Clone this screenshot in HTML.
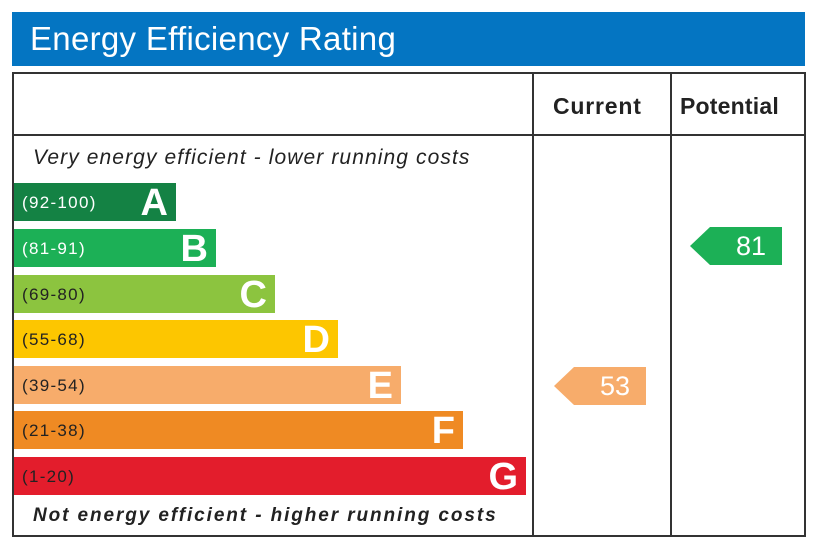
<!DOCTYPE html><html><head><style>
body{margin:0;width:820px;height:547px;background:#fff;position:relative;font-family:"Liberation Sans",sans-serif;overflow:hidden}
.a{position:absolute;white-space:nowrap}
.bar{position:absolute;left:14px;height:38px;color:#fff}
.bar .r{position:absolute;left:8px;top:10px;font-size:17px;letter-spacing:1.3px;color:#fff}
.bar .l{position:absolute;right:8px;top:-1px;font-size:38px;font-weight:bold}
.hd{font-weight:bold;font-size:23px;color:#222;letter-spacing:0.8px}
</style></head><body>
<div class="a" style="left:12px;top:12px;width:793px;height:54px;background:#0475c2"></div>
<div class="a" style="left:30px;top:20px;color:#fff;font-size:33px;letter-spacing:0.3px">Energy Efficiency Rating</div>
<div class="a" style="left:12px;top:72px;width:790px;height:461px;border:2px solid #333"></div>
<div class="a" style="left:14px;top:134px;width:790px;height:2px;background:#333"></div>
<div class="a" style="left:532px;top:74px;width:2px;height:461px;background:#333"></div>
<div class="a" style="left:670px;top:74px;width:2px;height:461px;background:#333"></div>
<div class="a hd" style="left:553px;top:93px">Current</div>
<div class="a hd" style="left:680px;top:93px;letter-spacing:0.2px">Potential</div>
<div class="a" style="left:33px;top:146px;font-style:italic;font-size:21px;letter-spacing:1.1px;color:#222">Very energy efficient - lower running costs</div>
<div class="a" style="left:33px;top:505px;font-style:italic;font-weight:bold;font-size:19px;letter-spacing:1.9px;color:#222">Not energy efficient - higher running costs</div>
<div class="bar" style="top:183px;width:162px;background:#148244"><span class="r">(92-100)</span><span class="l">A</span></div>
<div class="bar" style="top:229px;width:202px;background:#1cb056"><span class="r">(81-91)</span><span class="l">B</span></div>
<div class="bar" style="top:275px;width:261px;background:#8cc43f"><span class="r" style="color:#222">(69-80)</span><span class="l">C</span></div>
<div class="bar" style="top:320px;width:324px;background:#fdc600"><span class="r" style="color:#222">(55-68)</span><span class="l">D</span></div>
<div class="bar" style="top:366px;width:387px;background:#f7ac6b"><span class="r" style="color:#222">(39-54)</span><span class="l">E</span></div>
<div class="bar" style="top:411px;width:449px;background:#ef8a23"><span class="r" style="color:#222">(21-38)</span><span class="l">F</span></div>
<div class="bar" style="top:457px;width:512px;background:#e31d2c"><span class="r" style="color:#222">(1-20)</span><span class="l">G</span></div>
<svg class="a" style="left:0;top:0" width="820" height="547">
<polygon points="554,386 574,367 646,367 646,405 574,405" fill="#f7ac6b"/>
<polygon points="690,246 710,227 782,227 782,265 710,265" fill="#1cb056"/>
</svg>
<div class="a" style="left:600px;top:371px;color:#fff;font-size:27px">53</div>
<div class="a" style="left:736px;top:231px;color:#fff;font-size:27px">81</div>
</body></html>
